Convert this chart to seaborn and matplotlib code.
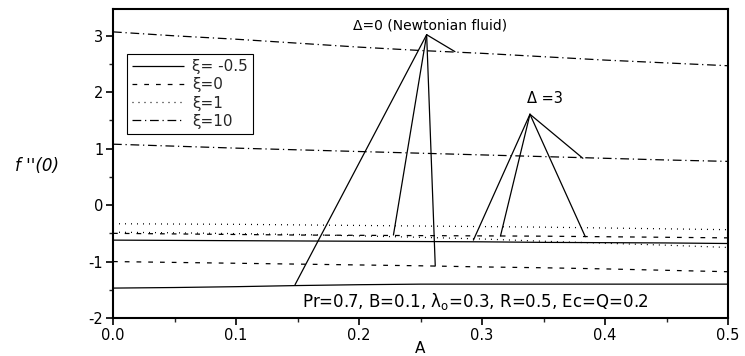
import matplotlib
matplotlib.use("Agg")
import matplotlib.pyplot as plt
import seaborn as sns
import numpy as np
import pandas as pd
from matplotlib.ticker import MultipleLocator, FormatStrFormatter

# ---------------- data ----------------
A = [0.0, 0.05, 0.1, 0.15, 0.2, 0.25, 0.3, 0.35, 0.4, 0.45, 0.5]

# Delta = 0 (Newtonian fluid)
d0_xi_m05 = [-1.47, -1.46, -1.445, -1.425, -1.41, -1.40, -1.40, -1.40, -1.40, -1.40, -1.40]
d0_xi_0   = [-1.00, -1.015, -1.03, -1.045, -1.06, -1.075, -1.095, -1.11, -1.13, -1.155, -1.18]
d0_xi_1   = [-0.48, -0.49, -0.505, -0.52, -0.545, -0.57, -0.60, -0.64, -0.675, -0.71, -0.75]
d0_xi_10  = [3.07, 3.00, 2.94, 2.87, 2.80, 2.74, 2.69, 2.63, 2.57, 2.52, 2.47]

# Delta = 3
d3_xi_m05 = [-0.62, -0.625, -0.63, -0.635, -0.64, -0.645, -0.65, -0.66, -0.665, -0.67, -0.68]
d3_xi_0   = [-0.50, -0.51, -0.52, -0.53, -0.535, -0.54, -0.545, -0.55, -0.56, -0.57, -0.58]
d3_xi_1   = [-0.33, -0.335, -0.34, -0.35, -0.36, -0.37, -0.38, -0.39, -0.405, -0.42, -0.435]
d3_xi_10  = [1.08, 1.045, 1.01, 0.98, 0.95, 0.92, 0.89, 0.86, 0.83, 0.80, 0.775]

legend_labels = ["\u03be= -0.5", "\u03be=0", "\u03be=1", "\u03be=10"]

# annotation anchors (apex) and target points
d0_label = "\u0394=0 (Newtonian fluid)"
d0_label_pos = (0.258, 3.12)
d0_apex = (0.255, 3.02)
d0_targets_x = [0.148, 0.228, 0.262, 0.278]
d0_targets_y = [-1.41, -0.53, -1.08, 2.72]

d3_label = "\u0394 =3"
d3_label_pos = (0.351, 1.81)
d3_apex = (0.339, 1.61)
d3_targets_x = [0.293, 0.315, 0.384, 0.382]
d3_targets_y = [-0.62, -0.55, -0.56, 0.83]

param_text = "Pr=0.7, B=0.1, \u03bb$_\\mathregular{o}$=0.3, R=0.5, Ec=Q=0.2"
param_pos = (0.154, -1.81)

x_ticks = [0.0, 0.1, 0.2, 0.3, 0.4, 0.5]
y_ticks = [-2, -1, 0, 1, 2, 3]

# ---------------- style ----------------
sns.set_theme(style="ticks")
plt.rcParams["font.family"] = ["DejaVu Sans"]
plt.rcParams["axes.unicode_minus"] = False
plt.rcParams["mathtext.fontset"] = "dejavusans"

fig = plt.figure(figsize=(7.45, 3.56), dpi=100)
ax = fig.add_axes([113 / 745, 1 - 318 / 356, (728 - 113) / 745, (318 - 9.3) / 356])

styles = [
    (0, ()),                      # solid
    (0, (3.8, 5.6)),              # dashed
    (0, (0.8, 4.0)),              # dotted
    (0, (7.0, 3.0, 1.0, 3.0)),    # dash-dot
]
lw = 0.9

d3_series = [d3_xi_m05, d3_xi_0, d3_xi_1, d3_xi_10]
d0_series = [d0_xi_m05, d0_xi_0, d0_xi_1, d0_xi_10]

for vals, ls, lab in zip(d3_series, styles, legend_labels):
    df = pd.DataFrame({"A": A, "f": vals})
    sns.lineplot(data=df, x="A", y="f", ax=ax, color="black", linewidth=lw,
                 linestyle=ls, label=lab, legend=False)
for vals, ls in zip(d0_series, styles):
    df = pd.DataFrame({"A": A, "f": vals})
    sns.lineplot(data=df, x="A", y="f", ax=ax, color="black", linewidth=lw,
                 linestyle=ls, legend=False)

# annotations
for tx, ty in zip(d0_targets_x, d0_targets_y):
    ax.annotate("", xy=(tx, ty), xytext=d0_apex,
                arrowprops=dict(arrowstyle="-", lw=0.9, color="black",
                                shrinkA=0, shrinkB=0))
for tx, ty in zip(d3_targets_x, d3_targets_y):
    ax.annotate("", xy=(tx, ty), xytext=d3_apex,
                arrowprops=dict(arrowstyle="-", lw=0.9, color="black",
                                shrinkA=0, shrinkB=0))
ax.text(*d0_label_pos, d0_label, ha="center", va="baseline", fontsize=10, color="black")
ax.text(*d3_label_pos, d3_label, ha="center", va="baseline", fontsize=10.5, color="black")
ax.text(*param_pos, param_text, ha="left", va="baseline", fontsize=12, color="black")

# axes
ax.set_xlim(0, 0.5)
ax.set_ylim(-2, 3.47)
ax.set_xticks(x_ticks)
ax.set_yticks(y_ticks)
ax.xaxis.set_major_formatter(FormatStrFormatter("%.1f"))
ax.yaxis.set_major_formatter(FormatStrFormatter("%d"))
ax.xaxis.set_minor_locator(MultipleLocator(0.05))
ax.yaxis.set_minor_locator(MultipleLocator(0.5))
ax.tick_params(axis="both", which="major", direction="out", length=5, width=1.2,
               labelsize=10.5, colors="black", pad=2)
ax.tick_params(axis="both", which="minor", direction="out", length=3, width=1.0)
ax.tick_params(top=False, right=False)
for sp in ax.spines.values():
    sp.set_visible(True)
    sp.set_color("black")
    sp.set_linewidth(1.5)

ax.set_xlabel("A", fontsize=11, color="black")
ax.xaxis.set_label_coords(0.5, -0.076)
ax.set_ylabel("f ''(0)", fontsize=12, style="italic", rotation=0, color="black",
              ha="center", va="center")
ax.yaxis.set_label_coords(-0.124, 0.492)

leg = ax.legend(loc="upper left", bbox_to_anchor=(0.023, 0.855), borderaxespad=0,
                frameon=True, fancybox=False, framealpha=1, edgecolor="black",
                fontsize=11, handlelength=3.4, handletextpad=0.5,
                labelspacing=0.2, borderpad=0.35)
leg.get_frame().set_linewidth(0.8)

fig.savefig("out.png", dpi=100)
